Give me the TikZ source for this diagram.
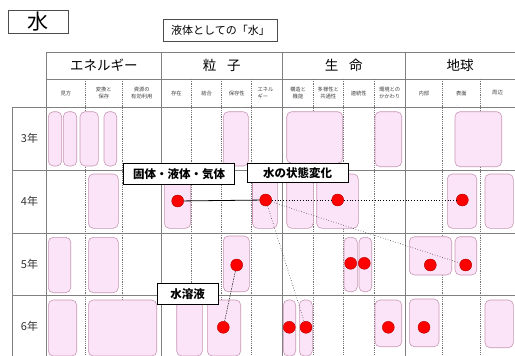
\documentclass[tikz,border=0pt]{standalone}
\usepackage{fontspec}
\setmainfont{Noto Sans CJK JP}
\begin{document}
\begin{tikzpicture}[x=1pt,y=-1pt,
  gridline/.style={draw=black!50,line width=0.7pt},
  subline/.style={draw=black!55,line width=0.5pt,dash pattern=on 1.2pt off 1pt},
  pbox/.style={draw={rgb,255:red,200;green,150;blue,180},fill={rgb,255:red,252;green,228;blue,248},line width=0.6pt,rounded corners=5pt},
  dot/.style={circle,fill=red,draw=red!70!black,line width=0.4pt,minimum size=12pt,inner sep=0pt},
  lbl/.style={draw=black,fill=white,line width=1pt,inner sep=2.5pt,font=\fontsize{11.5}{13}\selectfont\bfseries},
  hdr/.style={font=\fontsize{13.5}{15}\selectfont},
  sub/.style={font=\fontsize{5.3}{6.3}\selectfont,align=center,text=black!75},
  rowl/.style={font=\fontsize{11}{13}\selectfont,text=black!80}]
\useasboundingbox (0,0) rectangle (515,356);
% title boxes
\node[draw=black!70,line width=0.6pt,minimum width=60pt,minimum height=23pt,inner sep=0pt,font=\fontsize{21}{22}\selectfont] (title) at (38.3,21.7) {水};
\node[draw=black!70,line width=0.6pt,minimum width=114pt,minimum height=22pt,font=\fontsize{11}{13}\selectfont] (sub) at (220.5,30.5) {液体としての「水」};
% grid
\draw[gridline] (46.7,52) -- (515,52);
\draw[gridline] (46.7,79) -- (515,79);
\foreach \y in {107,170,233,295} \draw[gridline] (12.7,\y) -- (515,\y);
\draw[gridline] (12.7,107) -- (12.7,356);
\foreach \x in {46.7,161,282.7,405} \draw[gridline] (\x,52) -- (\x,356);
\foreach \x in {85,122.7,191.7,221.7,251.7,313.3,343.3,374.3,442.7,480} \draw[subline] (\x,79) -- (\x,356);
% headers
\node[hdr] (h1) at (103.8,65.5) {エネルギー};
\node[hdr] (h2) at (221.8,65.5) {粒\hspace{0.8em}子};
\node[hdr] (h3) at (343.8,65.5) {生\hspace{0.8em}命};
\node[hdr] (h4) at (460,65.5) {地球};
% subheaders
\node[sub] (s1) at (65.8,93) {見方};
\node[sub] (s2) at (103.8,93) {変換と\\保存};
\node[sub] (s3) at (141.8,93) {資源の\\有効利用};
\node[sub] (s4) at (176.3,93) {存在};
\node[sub] (s5) at (206.7,93) {結合};
\node[sub] (s6) at (236.7,93) {保存性};
\node[sub,align=left] (s7) at (265.5,93) {エネル\\ギー};
\node[sub] (s8) at (298,93) {構造と\\機能};
\node[sub] (s9) at (328.3,93) {多様性と\\共通性};
\node[sub] (s10) at (358.8,93) {連続性};
\node[sub] (s11) at (389.6,93) {環境との\\かかわり};
\node[sub] (s12) at (423.8,93) {内部};
\node[sub] (s13) at (461.3,93) {表面};
\node[sub] (s14) at (497.5,93) {周辺};
% row labels
\node[rowl] (r3) at (29.5,138.5) {3年};
\node[rowl] (r4) at (29.5,201.5) {4年};
\node[rowl] (r5) at (29.5,264) {5年};
\node[rowl] (r6) at (29.5,326) {6年};
% pink boxes row 3
\draw[pbox] (48.3,111.7) rectangle (61.7,166);
\draw[pbox] (63.3,111.7) rectangle (76.7,166);
\draw[pbox] (80,111.7) rectangle (98.3,166);
\draw[pbox] (104,111.7) rectangle (116.7,166);
\draw[pbox] (223.3,111.7) rectangle (248.3,166);
\draw[pbox] (286.7,111.7) rectangle (342.7,163.3);
\draw[pbox] (375,111.7) rectangle (401.7,166.7);
\draw[pbox] (455,111.7) rectangle (501.7,166.7);
% row 4
\draw[pbox] (88.3,174) rectangle (118.3,228.3);
\draw[pbox] (164.3,174) rectangle (190.7,228.3);
\draw[pbox] (252.5,174) rectangle (277.3,228.3);
\draw[pbox] (286.7,174) rectangle (313.3,228.3);
\draw[pbox] (316.7,174) rectangle (358.3,228.3);
\draw[pbox] (447.3,174) rectangle (476.7,228.3);
\draw[pbox] (485,174) rectangle (513.3,228.3);
% row 5
\draw[pbox] (48.3,237.3) rectangle (70.7,292.7);
\draw[pbox] (88.3,237.3) rectangle (118.3,292.7);
\draw[pbox] (223.3,236) rectangle (249.3,291.7);
\draw[pbox] (344,237.3) rectangle (357.3,291.7);
\draw[pbox] (359,237.3) rectangle (371.7,291.7);
\draw[pbox] (409.3,236.7) rectangle (451.7,275);
\draw[pbox] (455,236.7) rectangle (476.7,275);
% row 6
\draw[pbox] (48.3,300) rectangle (76.7,356);
\draw[pbox] (88.3,300) rectangle (156.7,356);
\draw[pbox] (176.7,300) rectangle (202.3,356);
\draw[pbox] (207.3,300) rectangle (240.7,356);
\draw[pbox] (283.3,300) rectangle (295.7,356);
\draw[pbox] (299.3,300) rectangle (312.3,356);
\draw[pbox] (375,300) rectangle (401.7,346.7);
\draw[pbox] (409.3,299) rectangle (439,346.7);
\draw[pbox] (485,300) rectangle (513.3,347.7);
% dots
\node[dot] (a) at (177.7,201) {};
\node[dot] (b) at (265.7,200) {};
\node[dot] (c) at (337.7,200) {};
\node[dot] (d) at (462.3,200) {};
\node[dot] (e) at (236.7,265) {};
\node[dot] (f) at (350.7,263.3) {};
\node[dot] (g) at (364.3,263.3) {};
\node[dot] (h) at (430.3,265) {};
\node[dot] (i) at (465.7,265) {};
\node[dot] (j) at (223.3,327.3) {};
\node[dot] (k) at (289.3,327.3) {};
\node[dot] (l) at (306,327.3) {};
\node[dot] (m) at (388.3,327.3) {};
\node[dot] (n) at (424,327.3) {};
% connectors
\draw[line width=0.8pt] (a) -- (b);
\draw[line width=0.8pt,dotted] (b) -- (c);
\draw[line width=0.8pt,dotted] (c) -- (d);
\draw[line width=0.6pt,black!80,dotted] (b) -- (i);
\draw[line width=0.6pt,black!80,dotted] (b) -- (l);
\draw[line width=0.6pt,black!80,dash pattern=on 1.5pt off 1pt] (e) -- (j);
% labels
\node[lbl,minimum width=111pt,minimum height=21pt] (L1) at (179.2,174.2) {固体・液体・気体};
\node[lbl,minimum width=101pt,minimum height=19pt] (L2) at (297.7,173) {水の状態変化};
\node[lbl,minimum width=61pt,minimum height=21pt] (L3) at (187.5,294.2) {水溶液};
\end{tikzpicture}
\end{document}
